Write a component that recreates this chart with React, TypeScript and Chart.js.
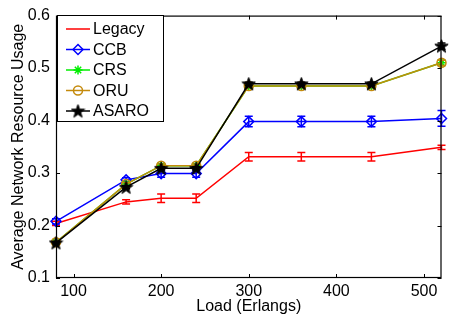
import React, { useEffect, useRef } from 'react';
import { Chart, registerables } from 'chart.js';
import { drawPoint } from 'chart.js/helpers';

Chart.register(...registerables);

const LOADS = [80, 160, 200, 240, 300, 360, 440, 520];
const X_TICKS = [100, 200, 300, 400, 500];
const Y_TICKS = [0.1, 0.2, 0.3, 0.4, 0.5, 0.6];

const LEGACY = [0.204, 0.245, 0.252, 0.252, 0.331, 0.331, 0.331, 0.349];
const LEGACY_ERR = [0.004, 0.004, 0.008, 0.008, 0.008, 0.008, 0.008, 0.004];
const CCB = [0.208, 0.287, 0.299, 0.299, 0.398, 0.398, 0.398, 0.404];
const CCB_ERR = [0.005, 0.004, 0.007, 0.007, 0.01, 0.01, 0.01, 0.015];
const CRS = [0.168, 0.279, 0.314, 0.314, 0.466, 0.466, 0.466, 0.510];
const CRS_ERR = [0.002, 0.003, 0.003, 0.003, 0.003, 0.003, 0.003, 0.005];
const ORU = [0.168, 0.279, 0.314, 0.314, 0.466, 0.466, 0.466, 0.510];
const ORU_ERR = [0.002, 0.003, 0.003, 0.003, 0.003, 0.003, 0.003, 0.005];
const ASARO = [0.167, 0.273, 0.309, 0.309, 0.470, 0.470, 0.470, 0.542];
const ASARO_ERR = [0.002, 0.003, 0.003, 0.003, 0.003, 0.003, 0.003, 0.006];

const FONT = "'Liberation Sans', Arial, Helvetica, sans-serif";

function makePentagram(size: number, color: string): HTMLCanvasElement {
  const c = document.createElement('canvas');
  c.width = size;
  c.height = size;
  const g = c.getContext('2d')!;
  const cx = size / 2, cy = size / 2 + 0.5;
  const R = size / 2 - 0.5, r = R * 0.4;
  g.beginPath();
  for (let i = 0; i < 10; i++) {
    const rad = i % 2 === 0 ? R : r;
    const a = -Math.PI / 2 + (i * Math.PI) / 5;
    const x = cx + rad * Math.cos(a);
    const y = cy + rad * Math.sin(a);
    if (i === 0) g.moveTo(x, y); else g.lineTo(x, y);
  }
  g.closePath();
  g.fillStyle = color;
  g.fill();
  g.strokeStyle = color;
  g.lineWidth = 1;
  g.stroke();
  return c;
}

export default function App() {
  const ref = useRef<HTMLCanvasElement>(null);

  useEffect(() => {
    const star = makePentagram(15, '#000000');
    const series = [
      { label: 'Legacy', data: LEGACY, err: LEGACY_ERR, color: '#ff0000', style: 'line' as any, radius: 0, order: 5 },
      { label: 'CCB', data: CCB, err: CCB_ERR, color: '#0000ff', style: 'rectRot' as any, radius: 5, order: 4 },
      { label: 'CRS', data: CRS, err: CRS_ERR, color: '#00ee00', style: 'star' as any, radius: 4.5, order: 3 },
      { label: 'ORU', data: ORU, err: ORU_ERR, color: '#c48a0c', style: 'circle' as any, radius: 4.5, order: 2 },
      { label: 'ASARO', data: ASARO, err: ASARO_ERR, color: '#000000', style: star as any, radius: 6, order: 1 },
    ];

    const errPlugin = {
      id: 'errbars',
      afterDatasetDraw(chart: any, args: any) {
        const s = series[args.index];
        const ctx = chart.ctx;
        const xs = chart.scales.x, ys = chart.scales.y;
        ctx.save();
        ctx.strokeStyle = s.color;
        ctx.lineWidth = 1.5;
        LOADS.forEach((x, i) => {
          const e = s.err[i];
          if (!e) return;
          const px = xs.getPixelForValue(x);
          const y1 = ys.getPixelForValue(s.data[i] - e);
          const y2 = ys.getPixelForValue(s.data[i] + e);
          ctx.beginPath();
          ctx.moveTo(px, y1); ctx.lineTo(px, y2);
          ctx.moveTo(px - 4, y1); ctx.lineTo(px + 4, y1);
          ctx.moveTo(px - 4, y2); ctx.lineTo(px + 4, y2);
          ctx.stroke();
        });
        ctx.restore();
      },
    };

    const framePlugin = {
      id: 'frame',
      afterDraw(chart: any) {
        const ctx = chart.ctx;
        const { left, right, top, bottom } = chart.chartArea;
        const xs = chart.scales.x, ys = chart.scales.y;
        ctx.save();
        ctx.strokeStyle = '#000';
        ctx.lineWidth = 1.2;
        ctx.strokeRect(left + 0.5, top + 0.5, right - left - 1, bottom - top - 1);
        ctx.beginPath();
        X_TICKS.forEach((t) => {
          const px = Math.round(xs.getPixelForValue(t)) + 0.5;
          ctx.moveTo(px, bottom); ctx.lineTo(px, bottom - 4);
          ctx.moveTo(px, top); ctx.lineTo(px, top + 4);
        });
        Y_TICKS.forEach((t) => {
          const py = Math.round(ys.getPixelForValue(t)) + 0.5;
          ctx.moveTo(left, py); ctx.lineTo(left + 4, py);
          ctx.moveTo(right, py); ctx.lineTo(right - 4, py);
        });
        ctx.lineWidth = 1;
        ctx.stroke();

        // legend
        const x0 = 57.5, y0 = 15.5, w = 106, h = 106;
        ctx.fillStyle = '#fff';
        ctx.fillRect(x0, y0, w, h);
        ctx.strokeStyle = '#000';
        ctx.lineWidth = 1;
        ctx.strokeRect(x0, y0, w, h);
        ctx.font = `16px ${FONT}`;
        ctx.textBaseline = 'middle';
        ctx.textAlign = 'left';
        series.forEach((s, i) => {
          const y = 29 + i * 20.5;
          ctx.strokeStyle = s.color;
          ctx.lineWidth = 1.5;
          ctx.beginPath();
          ctx.moveTo(66, y); ctx.lineTo(90, y);
          ctx.stroke();
          if (s.radius > 0) {
            ctx.fillStyle = 'rgba(0,0,0,0)';
            ctx.strokeStyle = s.color;
            drawPoint(ctx, { pointStyle: s.style, radius: s.radius, rotation: 0, borderWidth: 1.5 } as any, 78, y);
          }
          ctx.fillStyle = '#000';
          ctx.fillText(s.label, 93, y + 1);
        });
        ctx.restore();
      },
    };

    const chart = new Chart(ref.current!, {
      type: 'line',
      data: {
        datasets: series.map((s) => ({
          label: s.label,
          data: LOADS.map((x, i) => ({ x, y: s.data[i] })),
          borderColor: s.color,
          backgroundColor: 'rgba(0,0,0,0)',
          borderWidth: 1.5,
          pointStyle: s.style,
          pointRadius: s.radius,
          pointBorderWidth: 1.5,
          pointBorderColor: s.color,
          pointBackgroundColor: 'rgba(0,0,0,0)',
          tension: 0,
          clip: false as any,
          order: s.order,
        })),
      },
      plugins: [errPlugin, framePlugin],
      options: {
        responsive: false,
        animation: false,
        events: [],
        layout: { padding: { top: 12, right: 3, left: 0, bottom: 0 } },
        plugins: { legend: { display: false }, tooltip: { enabled: false } },
        scales: {
          x: {
            type: 'linear',
            min: 80,
            max: 520,
            afterBuildTicks: (s: any) => { s.ticks = X_TICKS.map((v) => ({ value: v })); },
            afterFit: (s: any) => { s.height = 44; },
            grid: { display: false, drawTicks: false },
            border: { display: false },
            ticks: { color: '#000', font: { family: FONT, size: 16 }, padding: 4, maxRotation: 0, callback: (v: any) => String(v) },
            title: { display: true, text: 'Load (Erlangs)', color: '#000', font: { family: FONT, size: 16 }, padding: { top: 0, bottom: 6 } },
          },
          y: {
            type: 'linear',
            min: 0.1,
            max: 0.6,
            afterBuildTicks: (s: any) => { s.ticks = Y_TICKS.map((v) => ({ value: v })); },
            afterFit: (s: any) => { s.width = 56; },
            grid: { display: false, drawTicks: false },
            border: { display: false },
            ticks: { color: '#000', font: { family: FONT, size: 16 }, padding: 6, callback: (v: any) => Number(v).toFixed(1) },
            title: { display: true, text: 'Average Network Resource Usage', color: '#000', font: { family: FONT, size: 16 }, padding: { top: 9, bottom: 0 } },
          },
        },
      },
    });
    return () => chart.destroy();
  }, []);

  return (
    <div style={{ position: 'fixed', left: 0, top: 0, width: 449, height: 322, background: '#fff' }}>
      <canvas ref={ref} width={449} height={322} style={{ width: 449, height: 322, display: 'block' }} />
    </div>
  );
}
